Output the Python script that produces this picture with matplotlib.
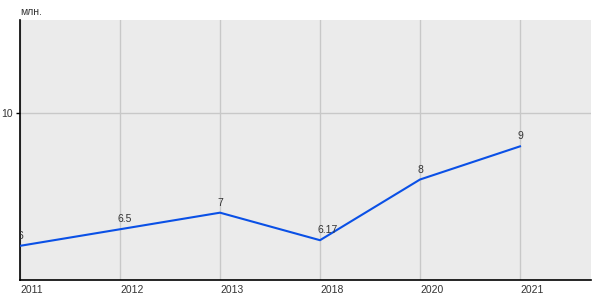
import matplotlib
matplotlib.use("Agg")
import matplotlib.pyplot as plt
from matplotlib.transforms import offset_copy

plt.rcParams['font.family'] = ['Liberation Sans', 'DejaVu Sans']

years = ["2011", "2012", "2013", "2018", "2020", "2021"]
values = [6, 6.5, 7, 6.17, 8, 9]
value_labels = ["6", "6.5", "7", "6.17", "8", "9"]

fig = plt.figure(figsize=(6, 3), dpi=100)
ax = fig.add_axes([20 / 600, 20 / 300, 571 / 600, 260 / 300])
ax.set_facecolor("#ebebeb")

x = list(range(len(years)))
ax.plot(x, values, color="#0a50e6", linewidth=1.5, zorder=3)

# data labels, slightly above and to the left of each point
trans = offset_copy(ax.transData, fig=fig, x=-2, y=3.5, units="points")
for xi, v, lab in zip(x, values, value_labels):
    ax.text(xi, v, lab, transform=trans, fontsize=7.5, color="#333333",
            ha="left", va="bottom", clip_on=True, zorder=4)

ax.set_xlim(0, 5.71)
ax.set_ylim(4.97, 12.81)

ax.set_xticks(x)
ax.set_xticklabels(years, ha="left")
ax.set_yticks([10])
ax.tick_params(axis="x", length=0, pad=3.5, labelsize=7.5, labelcolor="#333333")
ax.tick_params(axis="y", length=3, width=1, pad=2, labelsize=7.5, labelcolor="#333333")

ax.grid(True, color="#c8c8c8", linewidth=1)
ax.set_axisbelow(True)

for side in ["top", "right"]:
    ax.spines[side].set_visible(False)
for side in ["left", "bottom"]:
    ax.spines[side].set_color("black")
    ax.spines[side].set_linewidth(1.2)

fig.text(20 / 600, 1 - 12 / 300, "млн.", fontsize=7.5, color="#333333",
         ha="left", va="center")

fig.savefig("out.png", dpi=100)
